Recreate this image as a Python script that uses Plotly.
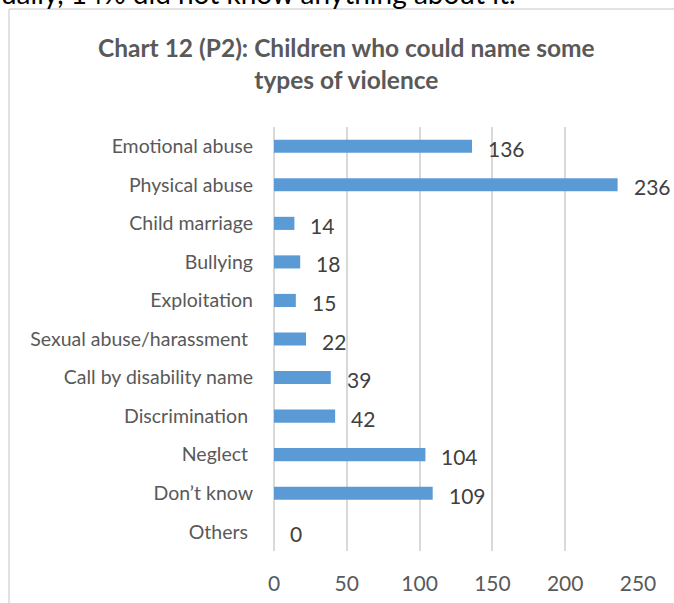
import plotly.graph_objects as go

categories = ["Emotional abuse", "Physical abuse", "Child marriage", "Bullying",
              "Exploitation", "Sexual abuse/harassment\u00a0", "Call by disability name",
              "Discrimination\u00a0", "Neglect\u00a0", "Don\u2019t know", "Others\u00a0"]
values = [136, 236, 14, 18, 15, 22, 39, 42, 104, 109, 0]
x_ticks = [0, 50, 100, 150, 200, 250]
title_text = "Chart 12 (P2): Children who could name some<br>types of violence"
top_text = "ually, 14% did not know anything about it."

W, H = 674, 603
L, R, T, B = 274, 36, 127, 52
pw, ph = W - L - R, H - T - B

def px_x(px):
    return (px - L) / pw

def px_y(py):
    return (H - B - py) / ph

fig = go.Figure()
fig.add_trace(go.Bar(
    x=values, y=categories, orientation="h",
    marker=dict(color="#5B9BD5", line=dict(width=0)),
    hoverinfo="skip",
))

annotations = []
for c, v in zip(categories, values):
    annotations.append(dict(
        x=v, y=c, xref="x", yref="y", text=str(v), showarrow=False,
        xanchor="left", yanchor="middle", xshift=14, yshift=-2,
        font=dict(family="Lato", size=21, color="#404040"),
    ))
annotations.append(dict(
    x=px_x(346), y=px_y(63), xref="paper", yref="paper", text=title_text,
    showarrow=False, xanchor="center", yanchor="middle",
    font=dict(family="Lato", size=24.5, color="#595959", weight="bold"),
))
annotations.append(dict(
    x=px_x(518), y=px_y(-7), xref="paper", yref="paper", text=top_text,
    showarrow=False, xanchor="right", yanchor="middle",
    font=dict(family="Lato", size=28, color="#000000"),
))

shapes = [
    dict(type="line", xref="paper", yref="paper", x0=px_x(9), x1=px_x(700),
         y0=px_y(9), y1=px_y(9), line=dict(color="#D9D9D9", width=1.5)),
    dict(type="line", xref="paper", yref="paper", x0=px_x(9), x1=px_x(9),
         y0=px_y(9), y1=px_y(620), line=dict(color="#D9D9D9", width=1.5)),
]

fig.update_layout(
    width=W, height=H,
    margin=dict(l=L, r=R, t=T, b=B, autoexpand=False),
    paper_bgcolor="white", plot_bgcolor="white",
    bargap=0.66, showlegend=False,
    annotations=annotations, shapes=shapes,
    font=dict(family="Lato", color="#595959"),
)
fig.update_xaxes(
    range=[0, 250], tickvals=x_ticks, ticktext=[str(t) for t in x_ticks],
    showgrid=True, gridcolor="#D9D9D9", gridwidth=1.5,
    zeroline=True, zerolinecolor="#D9D9D9", zerolinewidth=1.5,
    showline=False, ticks="", ticklabelstandoff=18,
    tickfont=dict(family="Lato", size=21, color="#595959"),
    fixedrange=True,
)
fig.update_yaxes(
    categoryorder="array", categoryarray=categories, autorange="reversed",
    showgrid=False, showline=False, ticks="", ticklabelstandoff=20,
    tickfont=dict(family="Lato", size=19.5, color="#595959"),
    fixedrange=True,
)

fig.write_html("out.html", config={"displayModeBar": False})
